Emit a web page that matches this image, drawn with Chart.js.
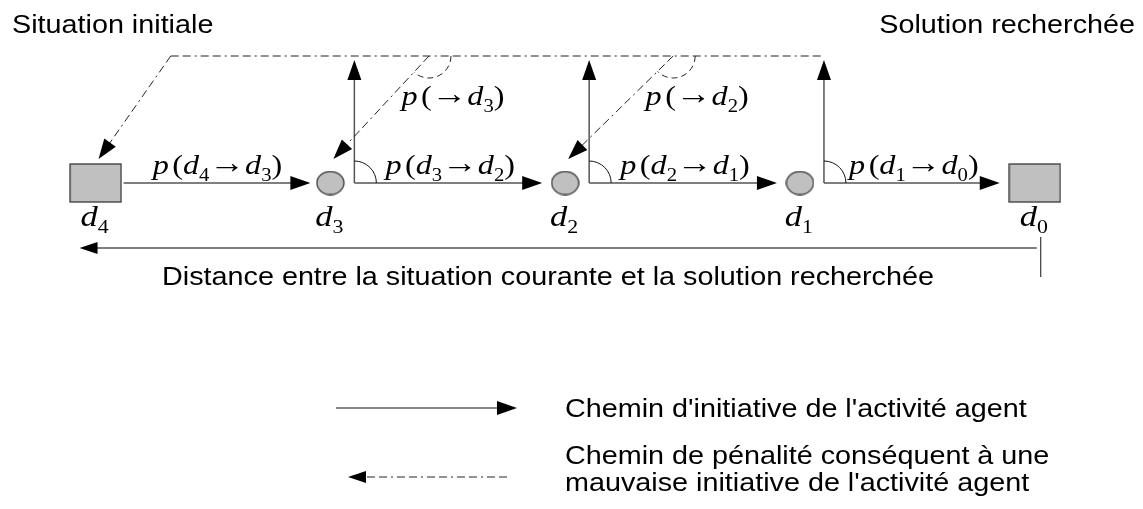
<!DOCTYPE html>
<html><head><meta charset="utf-8">
<script src="https://cdn.jsdelivr.net/npm/chart.js@4/dist/chart.umd.min.js"></script>
<style>html,body{margin:0;padding:0;background:#fff}#wrap{width:1143px;height:509px;position:relative}</style>
</head><body><div id="wrap"><canvas id="c"></canvas></div>
<script>
// ---------- data (diagram content) ----------
const nodeNames = ['d4', 'd3', 'd2', 'd1', 'd0'];
const nodeIndex = ['4', '3', '2', '1', '0'];
const nodeDistance = [4, 3, 2, 1, 0];          // distance to the sought solution
const nodeKind = ['situation', 'step', 'step', 'step', 'situation'];
const transitionFrom = [0, 1, 2, 3];             // p(d_i -> d_{i+1})
const cornerNodes = [1, 2, 3];                   // nodes where initiative paths also go up
const penaltyTarget = [0, 1, 2];                 // penalty paths end at these nodes
const penaltyOrigin = [3.68, 2.58, 1.54];        // distance where penalty path leaves the top path
const penaltyLabelled = [false, true, true];
const titleLeft = 'Situation initiale';
const titleRight = 'Solution recherchée';
const axisTitle = 'Distance entre la situation courante et la solution recherchée';
const legendSolid = ["Chemin d'initiative de l'activité agent"];
const legendDashed = ['Chemin de pénalité conséquent à une', "mauvaise initiative de l'activité agent"];

// ---------- layout / style ----------
const ROW = 183, TOP = 56, UP_TIP = 60, AXIS_Y = 248;
const SX = 1.15;                 // horizontal stretch of the original drawing
const SANS = '"Liberation Sans", Arial, sans-serif';
const SERIF = '"Liberation Serif", "Times New Roman", serif';
const DASH = [8, 4, 8, 4, 2, 4];

function makeShape(kind) {
  const c = document.createElement('canvas');
  const w = kind === 'situation' ? 53 : 29, h = kind === 'situation' ? 40 : 25;
  c.width = w; c.height = h;
  const g = c.getContext('2d');
  g.fillStyle = '#c0c0c0'; g.strokeStyle = '#3a3a3a'; g.lineWidth = 1.3;
  if (kind === 'situation') { g.fillRect(1, 1, w - 2, h - 2); g.strokeRect(1, 1, w - 2, h - 2); }
  else { g.beginPath(); g.ellipse(w / 2, h / 2, w / 2 - 1, h / 2 - 1, 0, 0, Math.PI * 2); g.fill(); g.stroke(); }
  return c;
}
const halfW = k => (k === 'situation' ? 26 : 14);

function arrowHead(ctx, x1, y1, x2, y2, len, hw) {
  const a = Math.atan2(y2 - y1, x2 - x1);
  ctx.save(); ctx.setLineDash([]); ctx.fillStyle = '#000';
  ctx.beginPath();
  ctx.moveTo(x2, y2);
  ctx.lineTo(x2 - len * Math.cos(a) - hw * Math.sin(a), y2 - len * Math.sin(a) + hw * Math.cos(a));
  ctx.lineTo(x2 - len * Math.cos(a) + hw * Math.sin(a), y2 - len * Math.sin(a) - hw * Math.cos(a));
  ctx.closePath(); ctx.fill(); ctx.restore();
}
function arrow(ctx, x1, y1, x2, y2, opts) {
  const o = Object.assign({ color: '#555', width: 1.5, dash: [], len: 20, hw: 7 }, opts || {});
  const a = Math.atan2(y2 - y1, x2 - x1);
  ctx.save(); ctx.strokeStyle = o.color; ctx.lineWidth = o.width; ctx.setLineDash(o.dash);
  ctx.beginPath(); ctx.moveTo(x1, y1);
  ctx.lineTo(x2 - (o.len - 2) * Math.cos(a), y2 - (o.len - 2) * Math.sin(a)); ctx.stroke();
  ctx.restore();
  arrowHead(ctx, x1, y1, x2, y2, o.len, o.hw);
}
function text(ctx, s, x, y, size, align) {
  ctx.save(); ctx.font = size + 'px ' + SANS; ctx.fillStyle = '#000';
  ctx.textAlign = align || 'left'; ctx.textBaseline = 'alphabetic';
  ctx.translate(x, y); ctx.scale(SX, 1); ctx.fillText(s, 0, 0); ctx.restore();
}
function mathText(ctx, runs, cx, baseline, size) {
  const f = r => r.sub ? Math.round(size * 0.64) + 'px ' + SERIF
    : r.sym ? Math.round(size * 1.1) + 'px ' + SERIF
    : (r.it ? 'italic ' : '') + size + 'px ' + SERIF;
  let w = 0;
  runs.forEach(r => { ctx.font = f(r); r.w = ctx.measureText(r.t).width + (r.gap || 0); w += r.w; });
  ctx.save(); ctx.fillStyle = '#000'; ctx.textAlign = 'left'; ctx.textBaseline = 'alphabetic';
  ctx.translate(cx - w * SX / 2, baseline); ctx.scale(SX, 1);
  let x = 0;
  runs.forEach(r => { ctx.font = f(r); ctx.fillText(r.t, x, r.sub ? size * 0.24 : (r.sym ? -1 : 0)); x += r.w; });
  ctx.restore();
}

const diagram = {
  id: 'diagram',
  beforeDatasetsDraw(chart) {
    const ctx = chart.ctx, xs = chart.scales.x, ys = chart.scales.y;
    const px = i => xs.getPixelForValue(nodeDistance[i]);
    const row = ys.getPixelForValue(ROW), top = ys.getPixelForValue(TOP);
    // top penalty path (dash-dot)
    const lastCorner = px(cornerNodes[cornerNodes.length - 1]) + 24;
    ctx.save(); ctx.strokeStyle = '#6e6e6e'; ctx.lineWidth = 1.5; ctx.setLineDash(DASH);
    ctx.beginPath(); ctx.moveTo(xs.getPixelForValue(penaltyOrigin[0]), top); ctx.lineTo(lastCorner, top); ctx.stroke();
    ctx.restore();
    // initiative transitions
    transitionFrom.forEach(i => {
      const start = nodeKind[i] === 'situation' ? px(i) + halfW(nodeKind[i]) + 2 : px(i) + 24;
      const end = px(i + 1) - halfW(nodeKind[i + 1]) - (nodeKind[i] === 'situation' ? 6 : 9);
      arrow(ctx, start, row, end, row);
    });
    // corners: up arrows and angle arcs
    cornerNodes.forEach(i => {
      const cx = px(i) + 24;
      arrow(ctx, cx, row, cx, ys.getPixelForValue(UP_TIP));
      ctx.save(); ctx.strokeStyle = '#111'; ctx.lineWidth = 1;
      ctx.beginPath(); ctx.arc(cx, row, 22, -Math.PI / 2, 0); ctx.stroke(); ctx.restore();
    });
    // penalty paths
    penaltyTarget.forEach((t, k) => {
      const ox = xs.getPixelForValue(penaltyOrigin[k]);
      const tx = px(t) + 3, ty = ys.getPixelForValue(ROW - 24);
      arrow(ctx, ox, top, tx, ty, { color: '#222', width: 1, dash: DASH });
      if (penaltyLabelled[k]) {
        const a = Math.atan2(ty - top, tx - ox);
        ctx.save(); ctx.strokeStyle = '#222'; ctx.lineWidth = 1; ctx.setLineDash([6, 4]);
        ctx.beginPath(); ctx.arc(ox, top, 22, 0, a); ctx.stroke(); ctx.restore();
      }
    });
    // distance axis
    const ax0 = px(0) - 16, ax1 = px(4) + 2;
    arrow(ctx, ax1, ys.getPixelForValue(AXIS_Y), ax0, ys.getPixelForValue(AXIS_Y), { len: 18, hw: 6 });
    ctx.save(); ctx.strokeStyle = '#111'; ctx.lineWidth = 1;
    ctx.beginPath(); ctx.moveTo(px(4) + 6, ys.getPixelForValue(AXIS_Y - 11)); ctx.lineTo(px(4) + 6, ys.getPixelForValue(AXIS_Y + 29)); ctx.stroke();
    ctx.restore();
    // legend
    arrow(ctx, 336, 408, 517, 408, { color: '#111', width: 1.2 });
    arrow(ctx, 507, 477, 348, 477, { color: '#222', width: 1, dash: DASH, len: 18, hw: 6 });
  },
  afterDatasetsDraw(chart) {
    const ctx = chart.ctx, xs = chart.scales.x, ys = chart.scales.y;
    const px = i => xs.getPixelForValue(nodeDistance[i]);
    const row = ys.getPixelForValue(ROW);
    // node names
    nodeNames.forEach((n, i) => {
      mathText(ctx, [{ t: 'd', it: 1 }, { t: nodeIndex[i], sub: 1 }], px(i) - 1, row + 43, 30);
    });
    // transition labels
    transitionFrom.forEach(i => {
      const start = nodeKind[i] === 'situation' ? px(i) + halfW(nodeKind[i]) + 2 : px(i) + 24;
      const end = px(i + 1) - halfW(nodeKind[i + 1]) - 9;
      mathText(ctx, [{ t: 'p', it: 1, gap: 3 }, { t: '(' }, { t: 'd', it: 1 }, { t: nodeIndex[i], sub: 1 }, { t: '→', sym: 1 },
        { t: 'd', it: 1 }, { t: nodeIndex[i + 1], sub: 1 }, { t: ')' }], (start + end) / 2 + 2, row - 9, 28);
    });
    // penalty labels
    penaltyTarget.forEach((t, k) => {
      if (!penaltyLabelled[k]) return;
      const ox = xs.getPixelForValue(penaltyOrigin[k]);
      mathText(ctx, [{ t: 'p', it: 1, gap: 3 }, { t: '(' }, { t: '→', sym: 1 }, { t: 'd', it: 1 }, { t: nodeIndex[t], sub: 1 }, { t: ')' }],
        ox + 24, ys.getPixelForValue(105), 28);
    });
    // titles
    text(ctx, titleLeft, 12, 33, 25, 'left');
    text(ctx, titleRight, 1135, 33, 25, 'right');
    text(ctx, axisTitle, 548, 285, 25, 'center');
    text(ctx, legendSolid[0], 565, 417, 25, 'left');
    text(ctx, legendDashed[0], 565, 464, 25, 'left');
    text(ctx, legendDashed[1], 565, 491, 25, 'left');
  }
};

new Chart(document.getElementById('c'), {
  type: 'scatter',
  data: {
    datasets: [{
      label: 'nodes',
      data: nodeDistance.map(d => ({ x: d, y: ROW })),
      pointStyle: nodeKind.map(makeShape),
      pointRadius: 14,
      showLine: false
    }]
  },
  options: {
    responsive: true, maintainAspectRatio: false, animation: false, events: [],
    layout: { padding: 0, autoPadding: false },
    plugins: { legend: { display: false }, tooltip: { enabled: false } },
    scales: {
      x: { type: 'linear', reverse: true, min: -0.461, max: 4.407, display: false },
      y: { type: 'linear', reverse: true, min: 0, max: 509, display: false }
    }
  },
  plugins: [diagram]
});
</script></body></html>
